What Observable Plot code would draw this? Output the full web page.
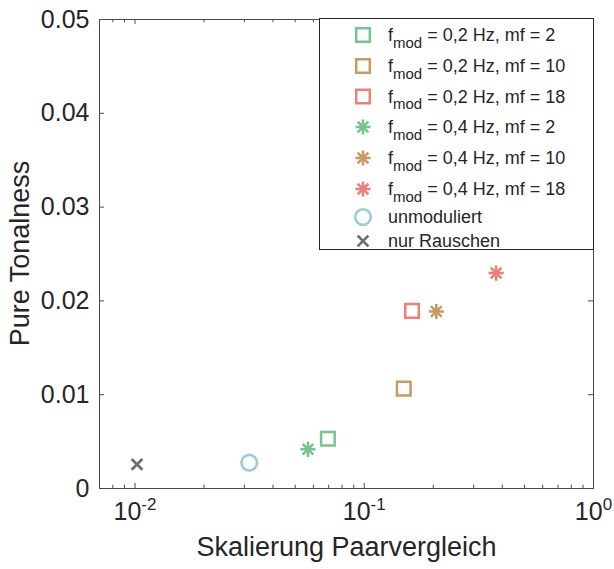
<!DOCTYPE html>
<html>
<head>
<meta charset="utf-8">
<script src="https://cdn.jsdelivr.net/npm/d3@7"></script>
<script src="https://cdn.jsdelivr.net/npm/@observablehq/plot@0.6"></script>
<style>
html, body { margin: 0; padding: 0; background: #fff; }
#chart { position: relative; width: 614px; height: 569px; }
</style>
</head>
<body>
<div id="chart"></div>
<script>
// ---------- data ----------
const series = [
  "f_mod = 0,2 Hz, mf = 2",
  "f_mod = 0,2 Hz, mf = 10",
  "f_mod = 0,2 Hz, mf = 18",
  "f_mod = 0,4 Hz, mf = 2",
  "f_mod = 0,4 Hz, mf = 10",
  "f_mod = 0,4 Hz, mf = 18",
  "unmoduliert",
  "nur Rauschen"
];
const skalierung = [0.0694, 0.1487, 0.1616, 0.0568, 0.2062, 0.376, 0.0315, 0.0102];
const tonalness  = [0.00531, 0.01065, 0.01894, 0.00418, 0.01887, 0.02297, 0.00275, 0.00258];
const markerType = ["square", "square", "square", "asterisk", "asterisk", "asterisk", "circle", "times"];

const xTickValues = [0.01, 0.1, 1];
const xTickExponents = ["-2", "-1", "0"];
const xMinorTicks = [0.008, 0.009, 0.02, 0.03, 0.04, 0.05, 0.06, 0.07, 0.08, 0.09,
                     0.2, 0.3, 0.4, 0.5, 0.6, 0.7, 0.8, 0.9];
const yTickValues = [0, 0.01, 0.02, 0.03, 0.04, 0.05];
const yTickLabels = ["0", "0.01", "0.02", "0.03", "0.04", "0.05"];
const xLabel = "Skalierung Paarvergleich";
const yLabel = "Pure Tonalness";

// ---------- styles ----------
const seriesColors = ["#78c48f", "#c99a62", "#ec7f78", "#78c48f", "#c99a62", "#ec7f78", "#9ccbda", "#6e6e6e"];
const axisColor = "#262626";
const frameColor = "#4a4a4a";
const FONT = "'Liberation Sans', Arial, Helvetica, sans-serif";

// custom marker symbols (MATLAB-like)
const symbols = {
  square: {draw(ctx, size) { const r = Math.sqrt(size / Math.PI);
    ctx.moveTo(-r, -r); ctx.lineTo(r, -r); ctx.lineTo(r, r); ctx.lineTo(-r, r); ctx.closePath(); }},
  circle: {draw(ctx, size) { const r = Math.sqrt(size / Math.PI);
    ctx.moveTo(r, 0); ctx.arc(0, 0, r, 0, 2 * Math.PI); ctx.closePath(); }},
  asterisk: {draw(ctx, size) { const r = Math.sqrt(size / Math.PI); const d = r * Math.SQRT1_2;
    ctx.moveTo(0, -r); ctx.lineTo(0, r); ctx.moveTo(-r, 0); ctx.lineTo(r, 0);
    ctx.moveTo(-d, -d); ctx.lineTo(d, d); ctx.moveTo(-d, d); ctx.lineTo(d, -d); }},
  times: {draw(ctx, size) { const r = Math.sqrt(size / Math.PI) * Math.SQRT1_2;
    ctx.moveTo(-r, -r); ctx.lineTo(r, r); ctx.moveTo(-r, r); ctx.lineTo(r, -r); }}
};
const symbolR = {square: 6.8, circle: 7.8, asterisk: 7.6, times: 7.6};
const symbolSW = {square: 2.5, circle: 2.6, asterisk: 2.6, times: 2.8};

// ---------- table ----------
const rows = series.map((s, i) => ({series: s, x: skalierung[i], y: tonalness[i], marker: markerType[i]}));

const W = 614, H = 569, mL = 99, mR = 21, mT = 19, mB = 81;
const innerW = W - mL - mR, innerH = H - mT - mB;
const majorLen = 5, minorLen = 3.3;

const dotMarks = Object.keys(symbols).map(k =>
  Plot.dot(rows, {
    filter: d => d.marker === k,
    x: "x", y: "y", stroke: "series", fill: "none",
    symbol: symbols[k], r: symbolR[k], strokeWidth: symbolSW[k]
  })
);

const plot = Plot.plot({
  width: W, height: H,
  marginLeft: mL, marginRight: mR, marginTop: mT, marginBottom: mB,
  style: {fontFamily: FONT, color: axisColor, background: "#fff", overflow: "visible"},
  x: {type: "log", domain: [0.007, 1], axis: null},
  y: {domain: [0, 0.05], axis: null},
  color: {domain: series, range: seriesColors},
  marks: [
    // ticks (inward, on all four sides)
    Plot.tickX(xTickValues, {x: d => d, insetTop: innerH - majorLen, stroke: frameColor}),
    Plot.tickX(xTickValues, {x: d => d, insetBottom: innerH - majorLen, stroke: frameColor}),
    Plot.tickX(xMinorTicks, {x: d => d, insetTop: innerH - minorLen, stroke: frameColor}),
    Plot.tickX(xMinorTicks, {x: d => d, insetBottom: innerH - minorLen, stroke: frameColor}),
    Plot.tickY(yTickValues, {y: d => d, insetRight: innerW - majorLen, stroke: frameColor}),
    Plot.tickY(yTickValues, {y: d => d, insetLeft: innerW - majorLen, stroke: frameColor}),
    Plot.frame({stroke: frameColor, strokeWidth: 1}),
    // tick labels
    Plot.text(yTickValues, {y: d => d, text: (d, i) => yTickLabels[i], frameAnchor: "left", dx: -10,
      textAnchor: "end", fontSize: 25}),
    Plot.text(xTickValues, {x: d => d, text: () => "10", frameAnchor: "bottom", dy: 31,
      fontSize: 25, ariaLabel: (d, i) => "xtick-" + i}),
    // x axis title
    Plot.text([xLabel], {text: d => d, frameAnchor: "bottom", dy: 67, fontSize: 27}),
    ...dotMarks
  ]
});

document.getElementById("chart").appendChild(plot);
const svg = d3.select(plot);

// superscript exponents on x tick labels
svg.selectAll("text").filter(function() {
  const a = this.getAttribute("aria-label"); return a && a.startsWith("xtick-");
}).each(function() {
  const i = +this.getAttribute("aria-label").slice(6);
  const t = d3.select(this);
  t.text(null);
  t.append("tspan").text("10");
  t.append("tspan").attr("dy", -10).attr("font-size", 17).text(xTickExponents[i]);
});

// y axis title
svg.append("text")
  .attr("transform", `translate(19,${mT + innerH / 2}) rotate(-90)`)
  .attr("text-anchor", "middle").attr("dy", "0.36em")
  .attr("font-family", FONT).attr("font-size", 27).attr("fill", axisColor)
  .text(yLabel);

// ---------- legend ----------
const legend = svg.append("g").attr("font-family", FONT)
  .attr("fill", axisColor).attr("text-anchor", "start");
legend.append("rect").attr("x", 319.5).attr("y", 18.5).attr("width", 274).attr("height", 231)
  .attr("fill", "#fff").attr("stroke", axisColor).attr("stroke-width", 1);
const rowY = [35, 66, 96.5, 127, 158, 189, 217, 241];
series.forEach((s, i) => {
  const k = markerType[i];
  legend.append("path")
    .attr("transform", `translate(363,${rowY[i]})`)
    .attr("d", d3.symbol(symbols[k], Math.PI * symbolR[k] ** 2)())
    .attr("fill", "none").attr("stroke", seriesColors[i]).attr("stroke-width", symbolSW[k]);
  const t = legend.append("text").attr("x", 388).attr("y", rowY[i] + 6).attr("font-size", 18)
    .attr("text-anchor", "start");
  const m = s.match(/^(\w)_(\w+)(.*)$/);
  if (m) {
    t.append("tspan").text(m[1]);
    t.append("tspan").attr("dy", 6.5).attr("font-size", 15).text(m[2]);
    t.append("tspan").attr("dy", -6.5).text(m[3]);
  } else {
    t.text(s);
  }
});
</script>
</body>
</html>
